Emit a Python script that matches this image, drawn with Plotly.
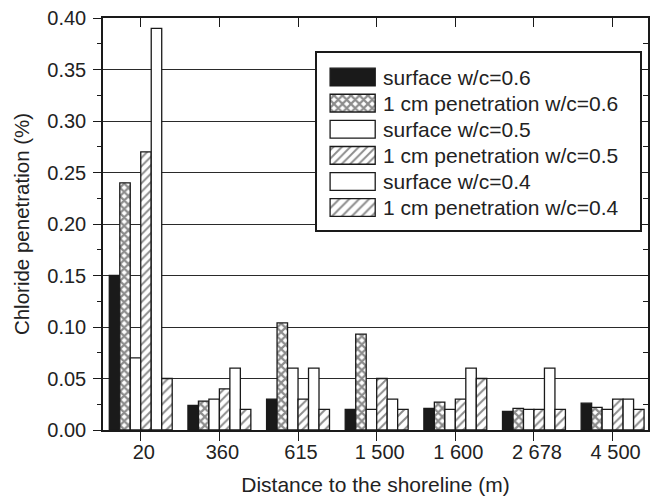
import plotly.graph_objects as go

distances = ["20", "360", "615", "1 500", "1 600", "2 678", "4 500"]

surface_06 = [0.150, 0.024, 0.030, 0.020, 0.021, 0.018, 0.026]
pen_06 = [0.240, 0.028, 0.104, 0.093, 0.027, 0.021, 0.022]
surface_05 = [0.070, 0.030, 0.060, 0.020, 0.020, 0.020, 0.020]
pen_05 = [0.270, 0.040, 0.030, 0.050, 0.030, 0.020, 0.030]
surface_04 = [0.390, 0.060, 0.060, 0.030, 0.060, 0.060, 0.030]
pen_04 = [0.050, 0.020, 0.020, 0.020, 0.050, 0.020, 0.020]

series_names = [
    "surface w/c=0.6",
    "1 cm penetration w/c=0.6",
    "surface w/c=0.5",
    "1 cm penetration w/c=0.5",
    "surface w/c=0.4",
    "1 cm penetration w/c=0.4",
]

FONT = "Liberation Sans, Arial, sans-serif"
INK = "#1a1a1a"
TEXT = "#222"

styles = [
    dict(color=INK),
    dict(color="white", pattern=dict(shape="x", fgcolor=INK, bgcolor="white", size=6, solidity=0.6)),
    dict(color="white"),
    dict(color="white", pattern=dict(shape="/", fgcolor=INK, bgcolor="white", size=6, solidity=0.32)),
    dict(color="white"),
    dict(color="white", pattern=dict(shape="/", fgcolor=INK, bgcolor="white", size=7, solidity=0.28)),
]

fig = go.Figure()
for name, vals, st in zip(series_names,
                          [surface_06, pen_06, surface_05, pen_05, surface_04, pen_04],
                          styles):
    marker = dict(line=dict(color=INK, width=1.3), **st)
    fig.add_trace(go.Bar(x=distances, y=vals, name=name, marker=marker,
                         showlegend=False, hoverinfo="skip"))

# invisible helper trace so the mirror axes are drawn
fig.add_trace(go.Scatter(x=[None], y=[None], xaxis="x2", yaxis="y2",
                         showlegend=False, hoverinfo="skip"))

# legend keys: one wide swatch per series in a small inset panel
for name, st in zip(series_names, styles):
    marker = dict(line=dict(color=INK, width=1.3), **st)
    fig.add_trace(go.Bar(y=[name], x=[1], orientation="h", xaxis="x3", yaxis="y3",
                         width=0.68, offset=-0.34, marker=marker,
                         showlegend=False, hoverinfo="skip"))
    fig.add_annotation(text=name, xref="x3", yref="y3", x=1, y=name,
                       xanchor="left", yanchor="middle", xshift=6, showarrow=False,
                       font=dict(size=21, color=TEXT, family=FONT))

xr = [-0.48, 6.45]
fig.update_layout(
    width=650, height=498,
    margin=dict(l=103, r=2, t=18, b=68),
    paper_bgcolor="white", plot_bgcolor="white",
    barmode="group", bargap=0.2, bargroupgap=0,
    font=dict(family=FONT, size=20, color=TEXT),
    showlegend=False,
    xaxis=dict(
        type="category", range=xr,
        title=dict(text="Distance to the shoreline (m)", font=dict(size=21), standoff=16),
        showline=True, linecolor=INK, linewidth=1.5,
        ticks="outside", ticklen=9, tickwidth=1.3, tickcolor=INK,
        ticklabelstandoff=-6, ticklabelshift=3,
        showgrid=False, zeroline=False,
        tickfont=dict(size=20),
    ),
    yaxis=dict(
        range=[0, 0.4], dtick=0.05, tickformat=".2f",
        title=dict(text="Chloride penetration (%)", font=dict(size=20.5), standoff=12),
        showline=True, linecolor=INK, linewidth=1.5,
        ticks="outside", ticklen=8, tickwidth=1.3, tickcolor=INK,
        ticklabelstandoff=3,
        minor=dict(dtick=0.025, ticks="outside", ticklen=4, tickwidth=1.2, tickcolor=INK, showgrid=False),
        showgrid=True, gridcolor="#2a2a2a", gridwidth=1.4,
        zeroline=False,
        tickfont=dict(size=20),
    ),
    xaxis2=dict(
        overlaying="x", side="top", type="linear", range=xr,
        tickvals=list(range(len(distances))), showticklabels=False,
        ticks="inside", ticklen=9, tickwidth=1.3, tickcolor=INK,
        showline=True, linecolor=INK, linewidth=1.5,
        showgrid=False, zeroline=False,
    ),
    yaxis2=dict(
        overlaying="y", side="right", range=[0, 0.4], dtick=0.05,
        showticklabels=False,
        ticks="inside", ticklen=8, tickwidth=1.3, tickcolor=INK,
        minor=dict(dtick=0.025, ticks="inside", ticklen=5, tickwidth=1.2, tickcolor=INK, showgrid=False),
        showline=True, linecolor=INK, linewidth=1.5,
        showgrid=False, zeroline=False,
    ),
    # inset legend panel (box = mirrored axis lines)
    xaxis3=dict(
        domain=[0.3927, 0.9853], anchor="y3", range=[-0.29, 6.87],
        showline=True, mirror=True, linecolor=INK, linewidth=1.5,
        showticklabels=False, ticks="", showgrid=False, zeroline=False, fixedrange=True,
    ),
    yaxis3=dict(
        domain=[0.4854, 0.915], anchor="x3", type="category",
        categoryorder="array", categoryarray=series_names,
        range=[5.86, -0.92],
        showline=True, mirror=True, linecolor=INK, linewidth=1.5,
        showticklabels=False, ticks="", showgrid=False, zeroline=False, fixedrange=True,
    ),
)

fig.write_html("out.html", config={"displayModeBar": False},
               post_script="document.body.style.margin='0';")
